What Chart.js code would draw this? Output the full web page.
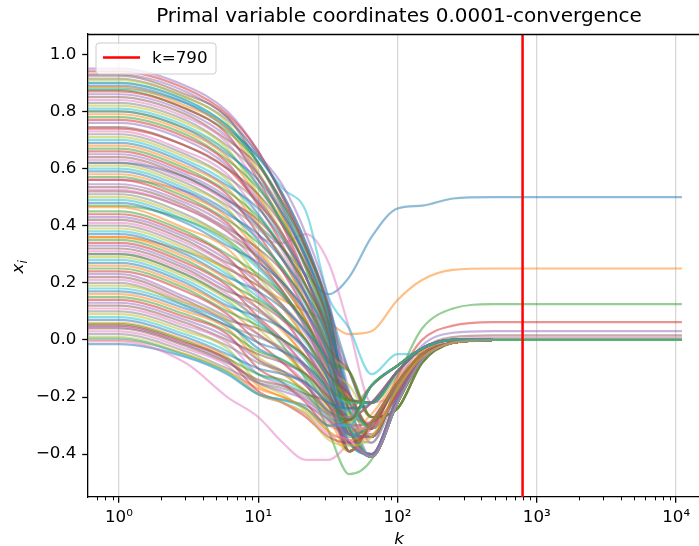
<!DOCTYPE html>
<html>
<head>
<meta charset="utf-8">
<script src="https://cdn.jsdelivr.net/npm/chart.js@4.4.1/dist/chart.umd.min.js"></script>
<style>
  html, body { margin: 0; padding: 0; background: #fff; }
  #wrap { width: 699px; height: 546px; overflow: hidden; }
</style>
</head>
<body>
<div id="wrap"><canvas id="mycanvas" width="730" height="546"></canvas></div>
<script>
var K = [0.5, 1, 3, 6, 10, 15, 22, 32, 45, 65, 100, 150, 250, 480, 11000];
var K_STOP = 790;

var xTickValues = [1, 10, 100, 1000, 10000];
var xTickLabels = ['10\u2070', '10\u00b9', '10\u00b2', '10\u00b3', '10\u2074'];
var yTickValues = [-0.4, -0.2, 0, 0.2, 0.4, 0.6, 0.8, 1.0];
var yTickLabels = ['\u22120.4', '\u22120.2', '0.0', '0.2', '0.4', '0.6', '0.8', '1.0'];

// first coordinates (some converge away from 0) and the extreme ones
var leadPaths = [
  [.62, .62, .57, .49, .40, .32, .23, .16, .22, .36, .46, .47, .495, .50, .50],
  [.36, .36, .31, .25, .19, .14, .10, .06, .02, .03, .14, .21, .245, .25, .25],
  [.47, .47, .42, .35, .26, .17, .05, -.10, -.20, -.22, -.12, .04, .11, .125, .125],
  [.74, .74, .68, .60, .48, .37, .22, .02, -.22, -.30, -.13, .00, .05, .0625, .0625],
  [.95, .95, .89, .80, .66, .50, .33, .12, -.18, -.36, -.15, -.02, .025, .031, .031],
  [.52, .52, .46, .38, .29, .19, .07, -.10, -.30, -.33, -.18, -.04, .01, .0156, .0156],
  [.56, .56, .52, .45, .36, .34, .37, .27, .04, -.22, -.18, -.05, .00, .008, .008],
  [.90, .90, .84, .75, .62, .47, .30, .07, -.28, -.36, -.18, -.05, .00, .004, .004],
  [.80, .80, .74, .66, .54, .42, .26, .04, -.25, -.34, -.19, -.06, -.01, 0, 0],
  [.88, .88, .83, .75, .64, .53, .45, .15, .04, -.12, -.05, -.05, -.01, 0, 0],
  [-.015, -.015, -.06, -.12, -.19, -.21, -.23, -.28, -.33, -.30, -.16, -.05, -.01, 0],
  [.00, .00, -.05, -.11, -.17, -.20, -.24, -.30, -.32, -.26, -.14, -.04, -.01, 0],
  [.30, .30, .23, .15, .07, -.02, -.14, -.32, -.47, -.42, -.21, -.06, -.01, 0, 0],
  [.94, .94, .88, .79, .66, .50, .32, .10, -.25, -.29, -.15, -.05, -.01, 0],
  [.93, .93, .87, .78, .65, .54, .37, .14, -.21, -.41, -.22, -.07, -.01, 0],
  [.925, .925, .86, .78, .62, .46, .28, .05, -.21, -.22, -.11, -.03, 0, 0],
  [-.005, -.005, -.08, -.20, -.27, -.36, -.42, -.42, -.36, -.28, -.15, -.05, -.01, 0]
];

var bulkPaths = [
  [.915, .915, .85, .77, .65, .51, .34, .11, -.24, -.34, -.17, -.06, -.01, 0],
  [.91, .91, .85, .76, .59, .43, .25, .02, -.28, -.16, -.09, -.03, 0, 0],
  [.90, .90, .84, .75, .62, .47, .30, .08, -.19, -.31, -.19, -.06, -.01, 0],
  [.89, .89, .83, .74, .64, .51, .34, .12, -.11, -.27, -.24, -.08, -.01, 0],
  [.885, .885, .82, .74, .58, .43, .25, .03, -.32, -.29, -.15, -.05, -.01, 0],
  [.875, .875, .81, .73, .62, .48, .32, .10, -.25, -.41, -.22, -.07, -.01, 0],
  [.87, .87, .81, .72, .56, .40, .22, .01, -.21, -.22, -.11, -.03, 0, 0],
  [.86, .86, .80, .71, .58, .44, .28, .06, -.29, -.34, -.17, -.06, -.01, 0],
  [.85, .85, .79, .70, .61, .48, .32, .11, -.24, -.16, -.09, -.03, 0, 0],
  [.84, .84, .78, .69, .54, .40, .22, .01, -.19, -.31, -.19, -.06, -.01, 0],
  [.83, .83, .77, .68, .58, .45, .29, .08, -.11, -.27, -.24, -.08, -.01, 0],
  [.82, .82, .76, .67, .51, .37, .19, -.02, -.37, -.29, -.15, -.05, -.01, 0],
  [.81, .81, .75, .66, .54, .41, .25, .04, -.31, -.41, -.22, -.07, -.01, 0],
  [.80, .80, .74, .65, .56, .44, .29, .09, -.21, -.22, -.11, -.03, 0, 0],
  [.79, .79, .73, .64, .50, .36, .19, -.01, -.33, -.34, -.17, -.06, -.01, 0],
  [.78, .78, .72, .63, .53, .41, .26, .06, -.28, -.16, -.09, -.03, 0, 0],
  [.77, .77, .71, .62, .47, .33, .16, -.04, -.19, -.31, -.19, -.06, -.01, 0],
  [.76, .76, .70, .61, .49, .37, .22, .02, -.11, -.27, -.24, -.08, -.01, 0],
  [.745, .745, .68, .60, .51, .40, .26, .06, -.30, -.29, -.15, -.05, -.01, 0],
  [.73, .73, .66, .58, .44, .31, .16, -.03, -.31, -.41, -.22, -.07, -.01, 0],
  [.72, .72, .65, .57, .48, .36, .22, .03, -.21, -.22, -.11, -.03, 0, 0],
  [.71, .71, .64, .56, .41, .28, .13, -.06, -.33, -.34, -.17, -.06, -.01, 0],
  [.70, .70, .63, .55, .44, .32, .18, -.01, -.28, -.16, -.09, -.03, 0, 0],
  [.69, .69, .62, .54, .46, .35, .22, .04, -.19, -.31, -.19, -.06, -.01, 0],
  [.68, .68, .61, .53, .40, .28, .13, -.05, -.11, -.27, -.24, -.08, -.01, 0],
  [.67, .67, .60, .52, .43, .32, .19, .01, -.34, -.29, -.15, -.05, -.01, 0],
  [.66, .66, .59, .51, .37, .24, .10, -.08, -.31, -.41, -.22, -.07, -.01, 0],
  [.65, .65, .58, .50, .40, .28, .15, -.03, -.21, -.22, -.11, -.03, 0, 0],
  [.64, .64, .57, .49, .42, .32, .19, .02, -.33, -.34, -.17, -.06, -.01, 0],
  [.63, .63, .56, .48, .35, .24, .10, -.08, -.28, -.16, -.09, -.03, 0, 0],
  [.62, .62, .55, .47, .39, .29, .16, -.01, -.19, -.31, -.19, -.06, -.01, 0],
  [.61, .61, .54, .46, .32, .21, .07, -.10, -.16, -.27, -.24, -.08, -.01, 0],
  [.60, .60, .53, .45, .35, .25, .12, -.05, -.39, -.29, -.15, -.05, -.01, 0],
  [.59, .59, .52, .44, .37, .28, .16, .00, -.31, -.41, -.22, -.07, -.01, 0],
  [.58, .58, .51, .43, .31, .20, .07, -.10, -.21, -.22, -.11, -.03, 0, 0],
  [.57, .57, .50, .42, .34, .25, .13, -.03, -.33, -.34, -.17, -.06, -.01, 0],
  [.56, .56, .49, .41, .28, .17, .04, -.13, -.28, -.16, -.09, -.03, 0, 0],
  [.545, .545, .48, .40, .30, .20, .09, -.07, -.19, -.31, -.19, -.06, -.01, 0],
  [.535, .535, .47, .39, .32, .24, .13, -.03, -.11, -.27, -.24, -.08, -.01, 0],
  [.525, .525, .46, .38, .26, .16, .04, -.12, -.39, -.29, -.15, -.05, -.01, 0],
  [.51, .51, .44, .36, .29, .20, .10, -.06, -.31, -.41, -.22, -.07, -.01, 0],
  [.50, .50, .43, .35, .22, .12, .00, -.15, -.22, -.22, -.11, -.03, 0, 0],
  [.49, .49, .42, .34, .25, .16, .05, -.09, -.33, -.34, -.17, -.06, -.01, 0],
  [.48, .48, .41, .33, .27, .20, .10, -.05, -.28, -.16, -.09, -.03, 0, 0],
  [.465, .465, .39, .32, .20, .11, .00, -.14, -.20, -.31, -.19, -.06, -.01, 0],
  [.45, .45, .38, .30, .23, .16, .06, -.08, -.11, -.27, -.24, -.08, -.01, 0],
  [.44, .44, .37, .29, .17, .08, -.04, -.18, -.39, -.29, -.15, -.05, -.01, 0],
  [.43, .43, .36, .28, .20, .12, .02, -.12, -.31, -.41, -.22, -.07, -.01, 0],
  [.42, .42, .35, .27, .22, .15, .06, -.07, -.21, -.22, -.11, -.03, 0, 0],
  [.41, .41, .34, .26, .16, .07, -.03, -.17, -.33, -.34, -.17, -.06, -.01, 0],
  [.40, .40, .33, .25, .19, .12, .03, -.10, -.28, -.16, -.09, -.03, 0, 0],
  [.39, .39, .32, .24, .13, .04, -.07, -.20, -.26, -.31, -.19, -.06, -.01, 0],
  [.38, .38, .31, .23, .15, .08, -.01, -.14, -.36, -.40, -.20, -.06, -.01, 0],
  [.37, .37, .30, .22, .17, .11, .03, -.09, -.39, -.29, -.15, -.05, -.01, 0],
  [.36, .36, .29, .21, .11, .03, -.06, -.19, -.31, -.41, -.22, -.07, -.01, 0],
  [.35, .35, .28, .20, .14, .08, .00, -.12, -.21, -.22, -.11, -.03, 0, 0],
  [.34, .34, .27, .19, .08, .00, -.10, -.22, -.33, -.34, -.17, -.06, -.01, 0],
  [.33, .33, .26, .18, .11, .04, -.04, -.16, -.28, -.16, -.09, -.03, 0, 0],
  [.32, .32, .25, .17, .13, .07, .00, -.12, -.19, -.31, -.19, -.06, -.01, 0],
  [.31, .31, .24, .16, .07, -.01, -.09, -.21, -.36, -.40, -.20, -.06, -.01, 0],
  [.30, .30, .23, .15, .10, .04, -.03, -.14, -.39, -.29, -.15, -.05, -.01, 0],
  [.29, .29, .22, .14, .04, -.04, -.13, -.24, -.31, -.41, -.22, -.07, -.01, 0],
  [.28, .28, .21, .13, .06, .00, -.07, -.18, -.22, -.22, -.11, -.03, 0, 0],
  [.27, .27, .20, .12, .08, .04, -.03, -.14, -.33, -.34, -.17, -.06, -.01, 0],
  [.26, .26, .19, .11, .02, -.04, -.12, -.23, -.28, -.16, -.09, -.03, 0, 0],
  [.25, .25, .18, .10, .05, .00, -.06, -.17, -.22, -.31, -.19, -.06, -.01, 0],
  [.24, .24, .17, .09, -.01, -.08, -.16, -.26, -.36, -.40, -.20, -.06, -.01, 0],
  [.23, .23, .15, .08, .02, -.04, -.10, -.20, -.39, -.29, -.15, -.05, -.01, 0],
  [.22, .22, .14, .07, .04, .00, -.06, -.16, -.31, -.41, -.22, -.07, -.01, 0],
  [.21, .21, .13, .06, -.03, -.08, -.15, -.25, -.27, -.22, -.11, -.03, 0, 0],
  [.20, .20, .12, .05, .01, -.03, -.09, -.19, -.33, -.34, -.17, -.06, -.01, 0],
  [.19, .19, .13, .07, -.06, -.11, -.19, -.28, -.29, -.16, -.09, -.03, 0, 0],
  [.18, .18, .12, .06, -.03, -.07, -.13, -.22, -.25, -.31, -.19, -.06, -.01, 0],
  [.17, .17, .11, .05, -.01, -.04, -.09, -.18, -.36, -.40, -.20, -.06, -.01, 0],
  [.16, .16, .10, .04, -.07, -.12, -.18, -.27, -.39, -.29, -.15, -.05, -.01, 0],
  [.15, .15, .09, .03, -.04, -.07, -.12, -.21, -.31, -.41, -.22, -.07, -.01, 0],
  [.14, .14, .08, .02, -.10, -.15, -.22, -.30, -.28, -.22, -.11, -.03, 0, 0],
  [.13, .13, .07, .01, -.07, -.11, -.16, -.25, -.33, -.34, -.17, -.06, -.01, 0],
  [.12, .12, .06, .00, -.05, -.08, -.12, -.20, -.28, -.16, -.09, -.03, 0, 0],
  [.11, .11, .05, -.01, -.12, -.16, -.21, -.29, -.30, -.31, -.19, -.06, -.01, 0],
  [.10, .10, .04, -.02, -.08, -.11, -.15, -.23, -.36, -.40, -.20, -.06, -.01, 0],
  [.09, .09, .03, -.03, -.15, -.19, -.25, -.32, -.39, -.29, -.15, -.05, -.01, 0],
  [.08, .08, .02, -.04, -.12, -.15, -.19, -.27, -.31, -.41, -.22, -.07, -.01, 0],
  [.07, .07, .01, -.05, -.10, -.12, -.15, -.22, -.24, -.22, -.11, -.03, 0, 0],
  [.06, .06, .00, -.06, -.16, -.20, -.24, -.32, -.35, -.34, -.17, -.06, -.01, 0],
  [.055, .055, -.005, -.065, -.12, -.14, -.18, -.25, -.28, -.16, -.09, -.03, 0, 0],
  [.05, .05, -.01, -.07, -.18, -.22, -.27, -.34, -.36, -.31, -.19, -.06, -.01, 0],
  [.045, .045, -.015, -.075, -.15, -.18, -.21, -.28, -.36, -.40, -.20, -.06, -.01, 0],
  [.04, .04, -.02, -.08, -.14, -.16, -.19, -.23, -.39, -.29, -.15, -.05, -.01, 0],
  [.03, .03, -.03, -.09, -.19, -.22, -.26, -.33, -.35, -.41, -.22, -.07, -.01, 0],
  [.02, .02, -.04, -.10, -.15, -.17, -.20, -.26, -.27, -.22, -.11, -.03, 0, 0],
  [.01, .01, -.05, -.11, -.19, -.22, -.26, -.35, -.37, -.34, -.17, -.06, -.01, 0],
  [.005, .005, -.055, -.115, -.19, -.21, -.24, -.30, -.30, -.16, -.09, -.03, 0, 0]
];

var tab10 = ['31,119,180', '255,127,14', '44,160,44', '214,39,40', '148,103,189',
             '140,86,75', '227,119,194', '127,127,127', '188,189,34', '23,190,207'];

var Y_MIN = -0.55, Y_MAX = 1.071;
var X_MIN = 0.631, X_MAX = 17500;
var FONT = 'DejaVu Sans';

var paths = leadPaths.concat(bulkPaths);
var datasets = [];
for (var i = 0; i < paths.length; i++) {
  var pts = [];
  for (var j = 0; j < paths[i].length; j++) {
    pts.push({x: K[j], y: paths[i][j]});
  }
  datasets.push({
    label: 'x' + i,
    data: pts,
    borderColor: 'rgba(' + tab10[i % 10] + ',0.5)',
    borderWidth: 2.2,
    pointRadius: 0,
    fill: false,
    cubicInterpolationMode: 'monotone',
    order: -i
  });
}
datasets.push({
  label: 'k=' + K_STOP,
  data: [{x: K_STOP, y: Y_MIN}, {x: K_STOP, y: Y_MAX}],
  borderColor: '#ff0000',
  borderWidth: 2.5,
  pointRadius: 0,
  fill: false,
  order: -9999
});

// top/right spine, minor log ticks, y label with subscript, legend box
var extras = {
  id: 'extras',
  afterDraw: function(chart) {
    var c = chart.ctx, a = chart.chartArea, xs = chart.scales.x;
    c.save();
    c.strokeStyle = '#000';
    c.lineWidth = 1.3;
    c.beginPath();
    c.moveTo(a.left, a.top + 0.5); c.lineTo(a.right, a.top + 0.5);
    c.moveTo(a.right - 0.5, a.top); c.lineTo(a.right - 0.5, a.bottom);
    c.stroke();
    c.lineWidth = 1;
    c.beginPath();
    for (var d = -1; d <= 4; d++) {
      for (var m = 2; m <= 9; m++) {
        var v = m * Math.pow(10, d);
        if (v < X_MIN || v > X_MAX) continue;
        var px = Math.round(xs.getPixelForValue(v)) + 0.5;
        c.moveTo(px, a.bottom); c.lineTo(px, a.bottom + 3.3);
      }
    }
    c.stroke();

    // y axis label x_i
    c.save();
    c.translate(23, (a.top + a.bottom) / 2);
    c.rotate(-Math.PI / 2);
    c.fillStyle = '#000';
    c.textBaseline = 'alphabetic';
    c.textAlign = 'left';
    c.font = 'italic 16.7px "' + FONT + '"';
    var xw = c.measureText('x').width;
    c.fillText('x', -8, 0);
    c.font = 'italic 11.7px "' + FONT + '"';
    c.fillText('i', -8 + xw, 3.5);
    c.restore();

    var lx = a.left + 8, ly = a.top + 9, lw = 120, lh = 31, r = 3;
    c.beginPath();
    c.moveTo(lx + r, ly); c.lineTo(lx + lw - r, ly); c.arcTo(lx + lw, ly, lx + lw, ly + r, r);
    c.lineTo(lx + lw, ly + lh - r); c.arcTo(lx + lw, ly + lh, lx + lw - r, ly + lh, r);
    c.lineTo(lx + r, ly + lh); c.arcTo(lx, ly + lh, lx, ly + lh - r, r);
    c.lineTo(lx, ly + r); c.arcTo(lx, ly, lx + r, ly, r);
    c.closePath();
    c.fillStyle = 'rgba(255,255,255,0.8)';
    c.fill();
    c.strokeStyle = '#cccccc';
    c.lineWidth = 1;
    c.stroke();
    c.strokeStyle = '#ff0000';
    c.lineWidth = 2.5;
    c.beginPath();
    c.moveTo(lx + 7, ly + 14.5); c.lineTo(lx + 44, ly + 14.5);
    c.stroke();
    c.fillStyle = '#000';
    c.font = '16.7px "' + FONT + '"';
    c.textBaseline = 'middle';
    c.fillText('k=' + K_STOP, lx + 56, ly + 15.5);
    c.restore();
  }
};

var ctx = document.getElementById('mycanvas');
var chart = new Chart(ctx, {
  type: 'line',
  data: { datasets: datasets },
  plugins: [extras],
  options: {
    responsive: false,
    animation: false,
    devicePixelRatio: 1,
    layout: { padding: { left: 0, right: 20, top: 0, bottom: 0 } },
    plugins: {
      legend: { display: false },
      tooltip: { enabled: false },
      title: {
        display: true,
        text: 'Primal variable coordinates 0.0001-convergence',
        fullSize: false,
        color: '#000',
        font: { family: FONT, size: 20, weight: 'normal', lineHeight: 1.2 },
        padding: { top: 5, bottom: 5 }
      }
    },
    scales: {
      x: {
        type: 'logarithmic',
        position: 'bottom',
        min: X_MIN,
        max: X_MAX,
        afterBuildTicks: function(s) {
          s.ticks = xTickValues.map(function(v) { return {value: v}; });
        },
        afterFit: function(s) { s.height = 49; },
        ticks: {
          autoSkip: false,
          maxRotation: 0,
          color: '#000',
          padding: 5,
          font: { family: FONT, size: 16.7 },
          callback: function(v) { return xTickLabels[xTickValues.indexOf(v)]; }
        },
        grid: { color: 'rgba(176,176,176,0.5)', lineWidth: 1.3, tickColor: '#000', tickWidth: 1.3, tickLength: 5.8 },
        border: { display: true, color: '#000', width: 1.3 },
        title: {
          display: true, text: 'k', color: '#000',
          font: { family: FONT, size: 16.7, style: 'italic', lineHeight: 0.8 },
          padding: { top: 0, bottom: 0 }
        }
      },
      y: {
        type: 'linear',
        min: Y_MIN,
        max: Y_MAX,
        afterBuildTicks: function(s) {
          s.ticks = yTickValues.map(function(v) { return {value: v}; });
        },
        afterFit: function(s) { s.width = 88; },
        ticks: {
          color: '#000',
          padding: 5.8,
          font: { family: FONT, size: 16.7 },
          callback: function(v) { return yTickLabels[yTickValues.indexOf(v)]; }
        },
        grid: { drawOnChartArea: false, tickColor: '#000', tickWidth: 1.3, tickLength: 5.8 },
        border: { display: true, color: '#000', width: 1.3 }
      }
    }
  }
});
</script>
</body>
</html>
